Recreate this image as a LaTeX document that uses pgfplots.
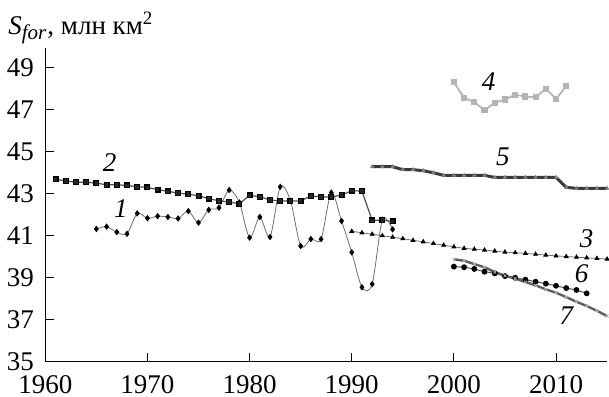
\documentclass[border=0pt]{standalone}
\usepackage{fontspec}
\setmainfont{Liberation Serif}
\usepackage{pgfplots}
\pgfplotsset{compat=1.18}
\usetikzlibrary{calc}
\definecolor{lnA}{HTML}{6E6E6E}
\definecolor{lnB}{HTML}{505050}
\definecolor{lnC}{HTML}{B4B4B4}
\definecolor{lnD}{HTML}{3A3A3A}
\definecolor{lnE}{HTML}{5E5E5E}
\begin{document}
\fontsize{13.5}{16}\selectfont
\begin{tikzpicture}
\begin{axis}[name=ax, scale only axis, width=280.9pt, height=156.7pt,
 xmin=1960, xmax=2015, ymin=35, ymax=49.9, enlargelimits=false,
 axis lines=left, axis line style={-, line width=0.6pt},
 xtick={1960,1970,...,2010}, ytick={35,37,...,49},
 tick align=inside, major tick length=4.5pt, tick style={line width=0.5pt, black},
 /pgf/number format/assume math mode=true,
 /pgf/number format/1000 sep={},
 ticklabel style={font=\fontsize{13.5}{16}\selectfont},
 yticklabel style={xshift=-1pt},
 xticklabel style={yshift=-2pt},
 clip=false,
]
% series 1
\addplot[lnA, line width=0.4pt, smooth, tension=0.5, mark=diamond*, mark size=1.3pt, mark options={black, fill=black}] coordinates {
(1965,41.31)(1966,41.42)(1967,41.16)(1968,41.08)(1969,42.05)(1970,41.82)(1971,41.92)(1972,41.88)(1973,41.81)(1974,42.16)(1975,41.61)(1976,42.22)(1977,42.32)(1978,43.16)(1979,42.57)(1980,40.90)(1981,41.88)(1982,40.93)(1983,43.31)(1984,42.65)(1985,40.50)(1986,40.83)(1987,40.83)(1988,43.04)(1989,41.69)(1990,40.20)(1991,38.54)(1992,38.69)(1993,41.75)(1994,41.29)};
% series 2
\addplot[lnB, line width=0.6pt, mark=square*, mark size=1.2pt, mark options={black, fill=black!85}] coordinates {
(1961,43.67)(1962,43.60)(1963,43.53)(1964,43.53)(1965,43.49)(1966,43.41)(1967,43.41)(1968,43.38)(1969,43.32)(1970,43.29)(1971,43.18)(1972,43.10)(1973,43.02)(1974,42.96)(1975,42.89)(1976,42.75)(1977,42.65)(1978,42.59)(1979,42.51)(1980,42.91)(1981,42.84)(1982,42.69)(1983,42.64)(1984,42.64)(1985,42.64)(1986,42.89)(1987,42.83)(1988,42.83)(1989,42.92)(1990,43.13)(1991,43.11)(1992,41.72)(1993,41.73)(1994,41.67)};
% series 3
\addplot[lnA, line width=0.4pt, mark=triangle*, mark size=1.1pt, mark options={black, fill=black}] coordinates {
(1990,41.20)(1991,41.13)(1992,41.06)(1993,40.99)(1994,40.92)(1995,40.85)(1996,40.77)(1997,40.70)(1998,40.62)(1999,40.54)(2000,40.46)(2001,40.39)(2002,40.35)(2003,40.31)(2004,40.26)(2005,40.21)(2006,40.18)(2007,40.15)(2008,40.11)(2009,40.07)(2010,40.03)(2011,40.00)(2012,39.97)(2013,39.94)(2014,39.91)(2015,39.88)};
% series 4
\addplot[lnC, line width=0.9pt, mark=square*, mark size=1.1pt, mark options={lnC, fill=lnC}] coordinates {
(2000,48.28)(2001,47.55)(2002,47.34)(2003,46.96)(2004,47.31)(2005,47.47)(2006,47.69)(2007,47.61)(2008,47.57)(2009,47.98)(2010,47.49)(2011,48.10)};
% series 5
\addplot[lnD, line width=1.5pt, mark=triangle*, mark size=1.0pt, mark options={gray, fill=gray, line width=0.3pt}] coordinates {
(1992,44.27)(1993,44.27)(1994,44.27)(1995,44.13)(1996,44.13)(1997,44.08)(1998,43.98)(1999,43.86)(2000,43.86)(2001,43.86)(2002,43.86)(2003,43.86)(2004,43.76)(2005,43.76)(2006,43.76)(2007,43.76)(2008,43.76)(2009,43.76)(2010,43.76)(2011,43.29)(2012,43.24)(2013,43.24)(2014,43.24)(2015,43.24)};
% series 6
\addplot[lnB, line width=0.5pt, mark=*, mark size=1.2pt, mark options={black, fill=black}] coordinates {
(2000,39.52)(2001,39.49)(2002,39.41)(2003,39.28)(2004,39.20)(2005,39.07)(2006,38.99)(2007,38.90)(2008,38.80)(2009,38.71)(2010,38.61)(2011,38.50)(2012,38.41)(2013,38.25)};
% series 7
\addplot[lnE, line width=1.2pt, mark=x, mark size=1.0pt, mark options={gray!60, line width=0.4pt}] coordinates {
(2000,39.87)(2001,39.80)(2002,39.64)(2003,39.49)(2004,39.26)(2005,39.09)(2006,38.95)(2007,38.79)(2008,38.63)(2009,38.44)(2010,38.28)(2011,38.07)(2012,37.85)(2013,37.65)(2014,37.42)(2015,37.17)};
\node[font=\itshape\fontsize{13.5}{16}\selectfont] at (axis cs:1967.4,42.29) {1};
\node[font=\itshape\fontsize{13.5}{16}\selectfont] at (axis cs:1966.3,44.46) {2};
\node[font=\itshape\fontsize{13.5}{16}\selectfont] at (axis cs:2013.0,40.86) {3};
\node[font=\itshape\fontsize{13.5}{16}\selectfont] at (axis cs:2003.4,48.31) {4};
\node[font=\itshape\fontsize{13.5}{16}\selectfont] at (axis cs:2004.8,44.74) {5};
\node[font=\itshape\fontsize{13.5}{16}\selectfont] at (axis cs:2012.5,39.20) {6};
\node[font=\itshape\fontsize{13.5}{16}\selectfont] at (axis cs:2011.0,37.20) {7};
\end{axis}
\node[anchor=base west, inner sep=0pt, font=\fontsize{13.5}{16}\selectfont] at ($(ax.south west)+(-18.65pt,163.35pt)$) {\textit{S}\textsubscript{\textit{\fontsize{10.5}{12}\selectfont for}}, млн км\textsuperscript{2}};
\pgfresetboundingbox
\path[use as bounding box] ($(ax.south west)+(-22.65pt,-17.15pt)$) rectangle ($(ax.south west)+(281.85pt,180.85pt)$);
\end{tikzpicture}
\end{document}
